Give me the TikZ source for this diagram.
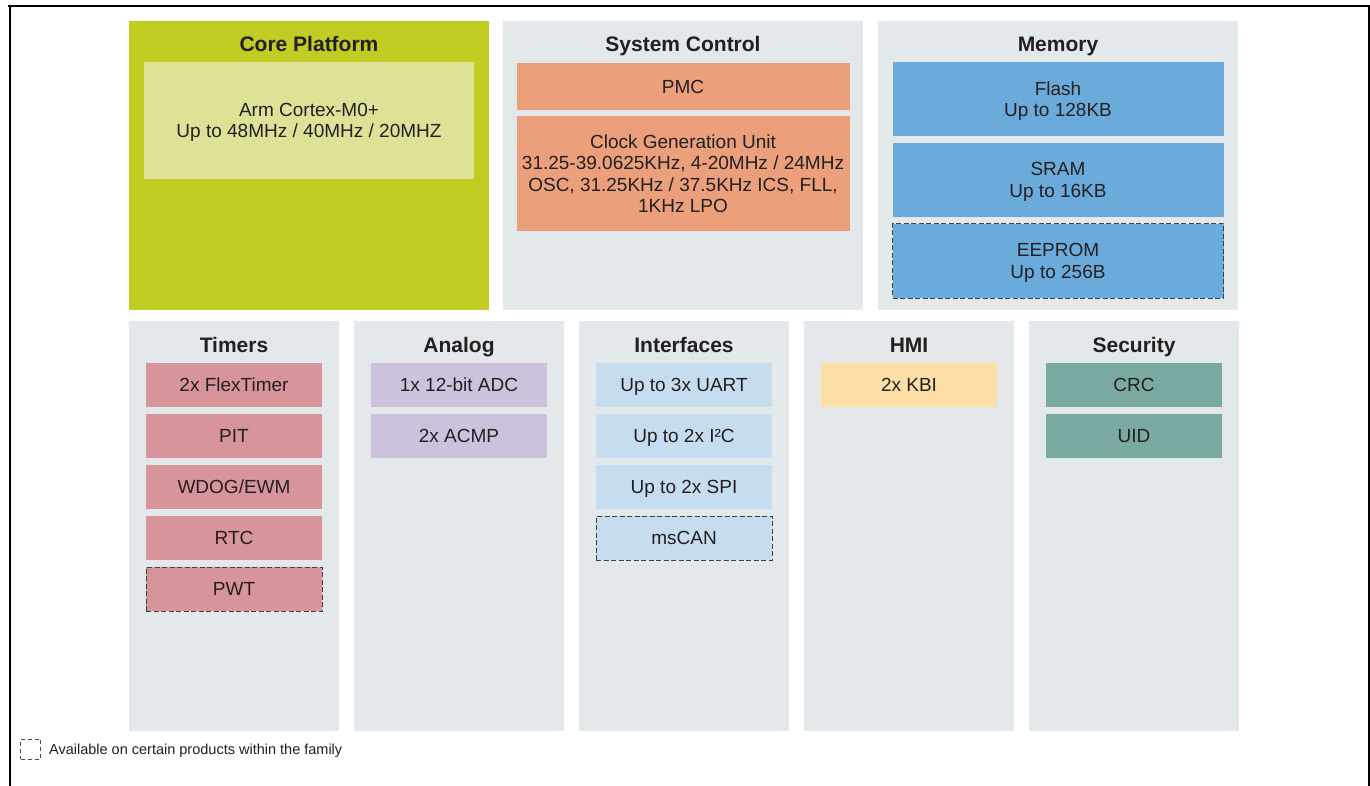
\documentclass[tikz,border=0pt]{standalone}
\usepackage{fontspec}
\setmainfont{Liberation Sans}
\usetikzlibrary{positioning}
\definecolor{coregreen}{HTML}{C1CD23}
\definecolor{corelight}{HTML}{DDE296}
\definecolor{panelgray}{HTML}{E3E8EB}
\definecolor{sysorange}{HTML}{EBA07B}
\definecolor{memblue}{HTML}{6AABDB}
\definecolor{timerpink}{HTML}{D8949B}
\definecolor{analoglilac}{HTML}{CCC2DC}
\definecolor{ifblue}{HTML}{C6DDEF}
\definecolor{hmiyellow}{HTML}{FDDFA6}
\definecolor{secteal}{HTML}{79A9A1}
\definecolor{txtgray}{HTML}{231F20}

\begin{document}
\begin{tikzpicture}[x=1pt,y=-1pt,
	panel/.style={anchor=north west, inner sep=0, outer sep=0, fill=panelgray},
	bigpanel/.style={panel, minimum width=360pt, minimum height=289pt},
	smallpanel/.style={panel, minimum width=210pt, minimum height=410pt},
	title/.style={anchor=base, inner sep=0, text=txtgray,
	font=\fontsize{21}{25}\selectfont\bfseries},
	blk/.style={inner sep=0, outer sep=0, align=center, text=txtgray,
	minimum width=176pt, minimum height=44pt, text depth=0pt,
	font=\fontsize{19}{21.5}\selectfont},
	opt/.style={draw=black!75, dash pattern=on 5pt off 2.5pt, line width=1pt},
	node distance=7pt
	]
	\useasboundingbox (0,0) rectangle (1370,786);
	\fill[white] (0,0) rectangle (1370,786);
	% outer frame
	\draw[line width=2pt] (8,6.5) -- (1370,6.5);
	\draw[line width=2pt] (9.5,6.5) -- (9.5,786);
	\draw[line width=2pt] (1368.5,6.5) -- (1368.5,786);
	
	% top row
	\node[bigpanel, fill=coregreen] (core) at (129,21) {};
	\node[bigpanel] (sys) at (503,21) {};
	\node[bigpanel] (mem) at (878,21) {};
	\node[title] at ([yshift=-30.5pt]core.north) {Core Platform};
	\node[title] at ([yshift=-30.5pt]sys.north) {System Control};
	\node[title] at ([yshift=-30.5pt]mem.north) {Memory};
	
	\node[blk, fill=corelight, minimum width=330pt, minimum height=117pt]
	(cpu) [below=41pt of core.north] {Arm Cortex-M0+\\Up to 48MHz / 40MHz / 20MHZ};
	
	\node[blk, fill=sysorange, minimum width=333pt, minimum height=47pt]
	(pmc) [below=42pt of sys.north] {PMC};
	\node[blk, fill=sysorange, minimum width=333pt, minimum height=115pt]
	(cgu) [below=6pt of pmc] {Clock Generation Unit\\31.25-39.0625KHz, 4-20MHz / 24MHz\\OSC, 31.25KHz / 37.5KHz ICS, FLL,\\1KHz LPO};
	
	\node[blk, fill=memblue, minimum width=331pt, minimum height=74pt]
	(flash) [below=41pt of mem.north] {Flash\\Up to 128KB};
	\node[blk, fill=memblue, minimum width=331pt, minimum height=74pt]
	(sram) [below=of flash] {SRAM\\Up to 16KB};
	\node[blk, opt, fill=memblue, minimum width=331pt, minimum height=74pt]
	(eeprom) [below=of sram] {EEPROM\\Up to 256B};
	
	% bottom row
	\node[smallpanel] (tim) at (129,321) {};
	\node[smallpanel] (ana) at (354,321) {};
	\node[smallpanel] (intf) at (579,321) {};
	\node[smallpanel] (hmi) at (804,321) {};
	\node[smallpanel] (sec) at (1029,321) {};
	\node[title] at ([yshift=-31pt]tim.north) {Timers};
	\node[title] at ([yshift=-31pt]ana.north) {Analog};
	\node[title] at ([yshift=-31pt]intf.north) {Interfaces};
	\node[title] at ([yshift=-31pt]hmi.north) {HMI};
	\node[title] at ([yshift=-31pt]sec.north) {Security};
	
	\node[blk, fill=timerpink] (ftm) [below=42pt of tim.north] {2x FlexTimer};
	\node[blk, fill=timerpink] (pit) [below=of ftm] {PIT};
	\node[blk, fill=timerpink] (wdog) [below=of pit] {WDOG/EWM};
	\node[blk, fill=timerpink] (rtc) [below=of wdog] {RTC};
	\node[blk, opt, fill=timerpink] (pwt) [below=of rtc] {PWT};
	
	\node[blk, fill=analoglilac] (adc) [below=42pt of ana.north] {1x 12-bit ADC};
	\node[blk, fill=analoglilac] (acmp) [below=of adc] {2x ACMP};
	
	\node[blk, fill=ifblue] (uart) [below=42pt of intf.north] {Up to 3x UART};
	\node[blk, fill=ifblue] (iic) [below=of uart] {Up to 2x I²C};
	\node[blk, fill=ifblue] (spi) [below=of iic] {Up to 2x SPI};
	\node[blk, opt, fill=ifblue] (mscan) [below=of spi] {msCAN};
	
	\node[blk, fill=hmiyellow] (kbi) [below=42pt of hmi.north] {2x KBI};
	
	\node[blk, fill=secteal] (crc) [below=42pt of sec.north] {CRC};
	\node[blk, fill=secteal] (uid) [below=of crc] {UID};
	
	% legend
	\node[opt, draw=black!70, dash pattern=on 4pt off 3pt, line width=0.9pt,
	inner sep=0, minimum size=20pt] (key) at (30.5,749) {};
	\node[inner sep=0, text=txtgray, font=\fontsize{14.5}{17}\selectfont,
	text depth=0pt, right=8pt of key] (keytext) {Available on certain products within the family};
\end{tikzpicture}
\end{document}
